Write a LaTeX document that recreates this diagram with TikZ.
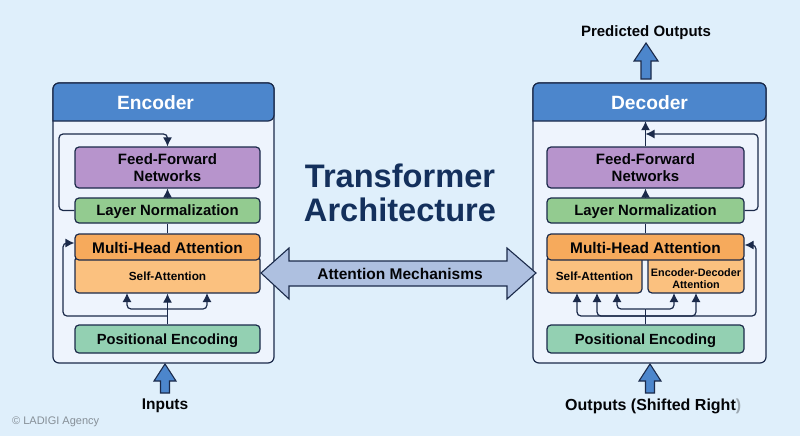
\documentclass[tikz,border=0pt]{standalone}
\usepackage{fontspec}
\setmainfont{Liberation Sans}
\usetikzlibrary{arrows.meta, positioning}

\definecolor{paper}{HTML}{DFEFFB}
\definecolor{panelfill}{HTML}{EEF4FD}
\definecolor{ink}{HTML}{1B2A4A}
\definecolor{headblue}{HTML}{4C86CC}
\definecolor{ffnfill}{HTML}{B794CC}
\definecolor{normfill}{HTML}{93CB90}
\definecolor{mhafill}{HTML}{F6AA5C}
\definecolor{subfill}{HTML}{FBC17F}
\definecolor{posfill}{HTML}{93D0B2}
\definecolor{bigfill}{HTML}{AEC0E0}
\definecolor{titleink}{HTML}{14305C}

\tikzset{
  box/.style={draw=ink, line width=1.2pt, rounded corners=4pt, inner sep=0pt, align=center, text=black!90!ink, text depth=0pt},
  link/.style={draw=ink, line width=1.2pt, rounded corners=4pt, -{Latex[length=9pt,width=9pt]}},
  wire/.style={draw=ink, line width=1.2pt, rounded corners=4pt},
  blockarrow/.style={draw=ink, line width=1.1pt, fill=headblue, line join=miter},
  tag/.style={font=\bfseries\fontsize{15.5}{18}\selectfont, text=black!90!ink, inner sep=0pt, text depth=0pt},
  headtext/.style={font=\bfseries\fontsize{19.2}{22}\selectfont, text=white, minimum height=36pt, inner sep=0pt},
}

\begin{document}
\begin{tikzpicture}[x=1pt,y=-1pt]
  \fill[paper] (0,0) rectangle (800,436);
  \useasboundingbox (0,0) rectangle (800,436);

  % Panel encoder
  \draw[ink, line width=1.2pt, fill=panelfill, rounded corners=6pt] (53,83) rectangle (274,363);
  \draw[ink, line width=1.2pt, fill=headblue, rounded corners=6pt] (53,121) -- (53,83) -- (274,83) -- (274,121) [sharp corners] -- cycle;
  \node[headtext] (headE) at (155.5,103) {Encoder};

  % Panel decoder
  \draw[ink, line width=1.2pt, fill=panelfill, rounded corners=6pt] (533,83) rectangle (766,363);
  \draw[ink, line width=1.2pt, fill=headblue, rounded corners=6pt] (533,121) -- (533,83) -- (766,83) -- (766,121) [sharp corners] -- cycle;
  \node[headtext] (headD) at (649.5,103) {Decoder};

  % Kotak encoder
  \node[box, fill=ffnfill, minimum width=185pt, minimum height=41pt, font=\bfseries\fontsize{15}{16.5}\selectfont] (ffnE) at (167.5,167.5) {Feed-Forward\\Networks};
  \node[box, fill=normfill, minimum width=185pt, minimum height=25pt, font=\bfseries\fontsize{14.9}{17}\selectfont] (normE) at (167.5,210.5) {Layer Normalization};
  \node[box, fill=subfill, minimum width=185pt, minimum height=37pt, font=\bfseries\fontsize{11.8}{14}\selectfont] (saE) at (167.5,274.5) {\rule{0pt}{11.5pt}Self-Attention};
  \node[box, fill=mhafill, minimum width=185pt, minimum height=26pt, font=\bfseries\fontsize{15.4}{18}\selectfont] (mhaE) at (167.5,247) {\rule{0pt}{13.5pt}Multi-Head Attention};
  \node[box, fill=posfill, minimum width=185pt, minimum height=28pt, font=\bfseries\fontsize{14.7}{17}\selectfont] (posE) at (167.5,339) {Positional Encoding};

  % Kotak decoder
  \node[box, fill=ffnfill, minimum width=197pt, minimum height=41pt, font=\bfseries\fontsize{15}{16.5}\selectfont] (ffnD) at (645.5,167.5) {Feed-Forward\\Networks};
  \node[box, fill=normfill, minimum width=197pt, minimum height=25pt, font=\bfseries\fontsize{14.9}{17}\selectfont] (normD) at (645.5,210.5) {Layer Normalization};
  \node[box, fill=subfill, minimum width=95pt, minimum height=37pt, font=\bfseries\fontsize{11.8}{14}\selectfont] (saD) at (594.5,274.5) {\rule{0pt}{11.5pt}Self-Attention};
  \node[box, fill=subfill, minimum width=96pt, minimum height=37pt, font=\bfseries\fontsize{10.8}{12}\selectfont] (edaD) at (696,274.5) {\rule{0pt}{15pt}Encoder-Decoder\\Attention};
  \node[box, fill=mhafill, minimum width=197pt, minimum height=26pt, font=\bfseries\fontsize{15.4}{18}\selectfont] (mhaD) at (645.5,247) {\rule{0pt}{13.5pt}Multi-Head Attention};
  \node[box, fill=posfill, minimum width=197pt, minimum height=28pt, font=\bfseries\fontsize{14.7}{17}\selectfont] (posD) at (645.5,339) {Positional Encoding};

  % Titik bantu
  \coordinate (loopE) at (59,134);
  \coordinate (railE) at (63,243);
  \coordinate (tieE) at (167.5,316);
  \coordinate (hubE) at (167.5,309);
  \coordinate (tapEa) at (127,293);
  \coordinate (tapEb) at (207,293);
  \coordinate (loopD) at (758,134);
  \coordinate (railD) at (756,245);
  \coordinate (tieD) at (645.5,316);
  \coordinate (hubD) at (645.5,309);
  \coordinate (tapDa) at (577,293);
  \coordinate (tapDb) at (597,293);
  \coordinate (tapDc) at (617,293);
  \coordinate (tapDd) at (674,293);
  \coordinate (tapDe) at (696,293);

  % Panah encoder
  \draw[link] (normE.north) -- (ffnE.south);
  \draw[wire] (mhaE.north) -- (normE.south);
  \draw[link] (normE.west) -| (loopE) -| (ffnE.north);
  \draw[link] (posE.north) -- (saE.south);
  \draw[link] (hubE) -| (tapEa);
  \draw[link] (hubE) -| (tapEb);
  \draw[link] (tieE) -| (railE) -- (mhaE.west |- railE);

  % Panah decoder
  \draw[link] (ffnD.north) -- (headD.south -| ffnD.north);
  \draw[link] (normD.north) -- (ffnD.south);
  \draw[wire] (mhaD.north) -- (normD.south);
  \draw[link] (normD.east) -| (loopD) -- (ffnD.north |- loopD);
  \draw[wire] (posD.north) -- (hubD);
  \draw[link] (hubD) -| (tapDc);
  \draw[link] (hubD) -| (tapDd);
  \draw[link] (tieD) -| (tapDa);
  \draw[link] (tieD) -| (tapDb);
  \draw[link] (tieD) -| (tapDe);
  \draw[link] (tieD) -| (railD) -- (mhaD.east |- railD);

  % Panah besar
  \draw[blockarrow] (165,364) -- (176,381) -- (169.5,381) -- (169.5,393) -- (160.5,393) -- (160.5,381) -- (154,381) -- cycle;
  \draw[blockarrow] (650,364) -- (661,381) -- (654.5,381) -- (654.5,393) -- (645.5,393) -- (645.5,381) -- (639,381) -- cycle;
  \draw[blockarrow] (646,43) -- (658,61) -- (651,61) -- (651,79) -- (641,79) -- (641,61) -- (634,61) -- cycle;
  \draw[blockarrow, fill=bigfill] (261,273) -- (289,248) -- (289,261) -- (507,261) -- (507,248) -- (536,273) -- (507,299) -- (507,286) -- (289,286) -- (289,299) -- cycle;
  \node[tag] (mech) at (400,274) {Attention Mechanisms};

  % Teks
  \node[tag] (inE) at (165,404.5) {Inputs};
  \node[tag, font=\bfseries\fontsize{16}{18}\selectfont, anchor=west] (inD) at (565,404.5) {Outputs (Shifted Right{\color{black!30!paper})}};
  \node[tag, font=\bfseries\fontsize{15}{18}\selectfont] (outD) at (646,31.5) {Predicted Outputs};
  \node[font=\bfseries\fontsize{32.6}{34}\selectfont, text=titleink, align=center, inner sep=0pt] (title) at (400,192.5) {Transformer\\Architecture};
  \node[font=\fontsize{11}{12}\selectfont, text=black!40!paper, anchor=west, inner sep=0pt] (mark) at (12,422) {© LADIGI Agency};
\end{tikzpicture}
\end{document}
